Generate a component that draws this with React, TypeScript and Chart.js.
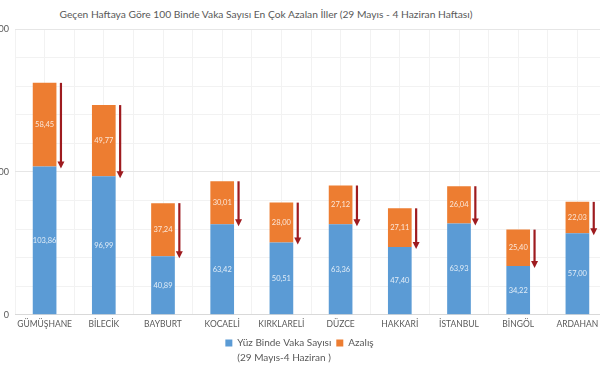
import React, { useEffect, useRef } from 'react';
import { Chart, registerables } from 'chart.js';

Chart.register(...registerables);

const titleText = 'Geçen Haftaya Göre 100 Binde Vaka Sayısı En Çok Azalan İller (29 Mayıs - 4 Haziran Haftası)';
const categories = ['GÜMÜŞHANE', 'BİLECİK', 'BAYBURT', 'KOCAELİ', 'KIRKLARELİ', 'DÜZCE', 'HAKKARİ', 'İSTANBUL', 'BİNGÖL', 'ARDAHAN'];
const currentWeek = [103.86, 96.99, 40.89, 63.42, 50.51, 63.36, 47.4, 63.93, 34.22, 57.0];
const decrease = [58.45, 49.77, 37.24, 30.01, 28.0, 27.12, 27.11, 26.04, 25.4, 22.03];
const yTickLabels = [0, 100, 200];
const seriesNames = ['Yüz Binde Vaka Sayısı', 'Azalış'];
const seriesSubtitle = '(29 Mayıs-4 Haziran )';

const BLUE = '#5B9BD5';
const ORANGE = '#ED7D31';
const ARROW = '#9E1B1F';
const TEXT = '#595959';
const FONT = 'Lato, "Open Sans", sans-serif';

const fmt = (v: number) => v.toFixed(2).replace('.', ',');

const overlayPlugin = {
  id: 'overlay',
  afterDatasetsDraw(chart: any) {
    const ctx = chart.ctx;
    const yScale = chart.scales.y;
    ctx.save();
    ctx.font = `7.5px ${FONT}`;
    ctx.textAlign = 'center';
    ctx.textBaseline = 'middle';
    chart.data.datasets.forEach((ds: any, di: number) => {
      const meta = chart.getDatasetMeta(di);
      meta.data.forEach((bar: any, i: number) => {
        const p = bar.getProps(['x', 'y', 'base'], true);
        ctx.fillStyle = 'rgba(255,255,255,0.82)';
        ctx.fillText(fmt(ds.data[i]), p.x, (p.y + p.base) / 2);
      });
    });
    const meta0 = chart.getDatasetMeta(0);
    meta0.data.forEach((bar: any, i: number) => {
      const p = bar.getProps(['x', 'width'], true);
      const ax = p.x + p.width / 2 + 4.5;
      const yTop = yScale.getPixelForValue(currentWeek[i] + decrease[i]);
      const yEnd = yScale.getPixelForValue(currentWeek[i]) + 2;
      ctx.strokeStyle = ARROW;
      ctx.fillStyle = ARROW;
      ctx.lineWidth = 2.2;
      ctx.beginPath();
      ctx.moveTo(ax, yTop);
      ctx.lineTo(ax, yEnd - 6);
      ctx.stroke();
      ctx.beginPath();
      ctx.moveTo(ax - 3.5, yEnd - 7);
      ctx.lineTo(ax + 3.5, yEnd - 7);
      ctx.lineTo(ax, yEnd);
      ctx.closePath();
      ctx.fill();
    });
    ctx.restore();
  },
  afterDraw(chart: any) {
    const legend = chart.legend;
    if (!legend || !legend.legendHitBoxes || !legend.legendHitBoxes.length) return;
    const hb = legend.legendHitBoxes[0];
    const opts = legend.options.labels;
    const fontSize = opts.font.size;
    const ctx = chart.ctx;
    ctx.save();
    ctx.font = `${fontSize}px ${FONT}`;
    ctx.fillStyle = TEXT;
    ctx.textAlign = 'left';
    ctx.textBaseline = 'middle';
    const x = hb.left + opts.boxWidth + fontSize / 2;
    const y = hb.top + hb.height / 2 + 15;
    ctx.fillText(seriesSubtitle, x, y);
    ctx.restore();
  },
};

export default function App() {
  const canvasRef = useRef<HTMLCanvasElement>(null);

  useEffect(() => {
    if (!canvasRef.current) return;
    const chart = new Chart(canvasRef.current, {
      type: 'bar',
      data: {
        labels: categories,
        datasets: [
          { label: seriesNames[0], data: currentWeek, backgroundColor: BLUE, barPercentage: 0.8, categoryPercentage: 0.5 },
          { label: seriesNames[1], data: decrease, backgroundColor: ORANGE, barPercentage: 0.8, categoryPercentage: 0.5 },
        ],
      },
      options: {
        animation: false,
        responsive: true,
        maintainAspectRatio: false,
        layout: { padding: { top: 29, right: 0, left: 8, bottom: 10 } },
        plugins: {
          title: { display: false },
          tooltip: { enabled: false },
          legend: {
            position: 'bottom',
            labels: {
              boxWidth: 7,
              boxHeight: 7,
              padding: 5,
              color: TEXT,
              font: { family: FONT, size: 10 },
            },
          },
        },
        scales: {
          x: {
            stacked: true,
            grid: { color: '#f2f2f2', drawTicks: false },
            border: { color: '#d9d9d9' },
            ticks: { color: TEXT, font: { family: FONT, size: 8.5 }, padding: 4, maxRotation: 0, autoSkip: false },
          },
          x2: {
            type: 'category',
            labels: categories,
            position: 'bottom',
            offset: true,
            grid: { offset: false, color: '#f2f2f2', drawTicks: false },
            border: { display: false },
            ticks: { display: false },
          },
          y: {
            stacked: true,
            min: 0,
            max: 200,
            afterFit: (axis: any) => { axis.width = 23; },
            border: { display: false },
            grid: {
              drawTicks: false,
              color: (c: any) => (c.tick.value === 0 ? '#d9d9d9' : c.tick.value % 100 === 0 ? '#e6e6e6' : '#f2f2f2'),
            },
            ticks: {
              stepSize: 20,
              padding: 6,
              color: TEXT,
              font: { family: FONT, size: 9 },
              callback: (v: any) => (yTickLabels.includes(Number(v)) ? String(v) : ''),
            },
          },
        },
      },
      plugins: [overlayPlugin],
    });
    return () => chart.destroy();
  }, []);

  return (
    <>
      <div
        style={{
          position: 'absolute',
          left: 0,
          top: 8,
          width: 532,
          textAlign: 'center',
          fontFamily: FONT,
          fontSize: 10.25,
          color: TEXT,
          whiteSpace: 'nowrap',
        }}
      >
        {titleText}
      </div>
      <div style={{ position: 'absolute', left: -16, top: 0, width: 623, height: 368 }}>
        <canvas ref={canvasRef} />
      </div>
    </>
  );
}
